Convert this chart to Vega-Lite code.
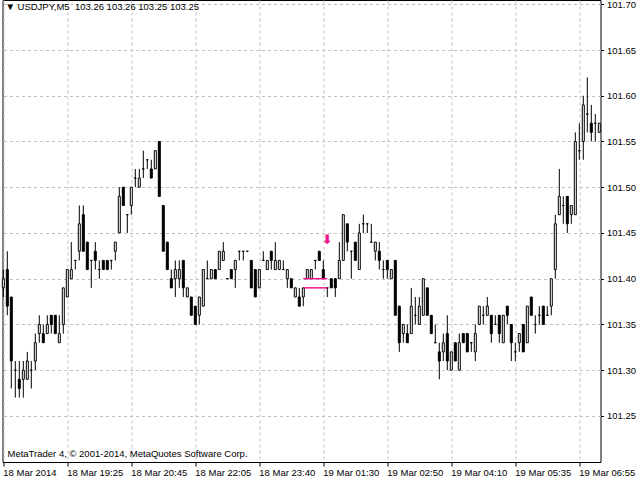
{
  "$schema": "https://vega.github.io/schema/vega-lite/v6.json",
  "width": 598,
  "height": 462,
  "autosize": "none",
  "padding": {"left": 2.5, "top": 0, "right": 39.5, "bottom": 18},
  "background": "#ffffff",
  "datasets": {
    "bars": [
      {"i":0,"o":101.39,"h":101.41,"l":101.38,"c":101.40},
      {"i":1,"o":101.41,"h":101.43,"l":101.36,"c":101.37},
      {"i":2,"o":101.38,"h":101.38,"l":101.28,"c":101.31},
      {"i":3,"o":101.30,"h":101.31,"l":101.27,"c":101.30},
      {"i":4,"o":101.29,"h":101.31,"l":101.27,"c":101.28},
      {"i":5,"o":101.29,"h":101.31,"l":101.27,"c":101.30},
      {"i":6,"o":101.29,"h":101.32,"l":101.29,"c":101.31},
      {"i":7,"o":101.30,"h":101.31,"l":101.28,"c":101.30},
      {"i":8,"o":101.31,"h":101.34,"l":101.30,"c":101.33},
      {"i":9,"o":101.34,"h":101.36,"l":101.33,"c":101.35},
      {"i":10,"o":101.34,"h":101.35,"l":101.33,"c":101.33},
      {"i":11,"o":101.34,"h":101.36,"l":101.34,"c":101.35},
      {"i":12,"o":101.36,"h":101.36,"l":101.34,"c":101.35},
      {"i":13,"o":101.36,"h":101.36,"l":101.34,"c":101.34},
      {"i":14,"o":101.33,"h":101.36,"l":101.33,"c":101.34},
      {"i":15,"o":101.35,"h":101.39,"l":101.34,"c":101.39},
      {"i":16,"o":101.38,"h":101.41,"l":101.38,"c":101.41},
      {"i":17,"o":101.40,"h":101.44,"l":101.40,"c":101.41},
      {"i":18,"o":101.42,"h":101.42,"l":101.41,"c":101.42},
      {"i":19,"o":101.43,"h":101.48,"l":101.42,"c":101.46},
      {"i":20,"o":101.47,"h":101.48,"l":101.43,"c":101.43},
      {"i":21,"o":101.44,"h":101.44,"l":101.41,"c":101.41},
      {"i":22,"o":101.42,"h":101.42,"l":101.39,"c":101.42},
      {"i":23,"o":101.43,"h":101.44,"l":101.41,"c":101.42},
      {"i":24,"o":101.41,"h":101.42,"l":101.40,"c":101.41},
      {"i":25,"o":101.42,"h":101.42,"l":101.41,"c":101.41},
      {"i":26,"o":101.42,"h":101.42,"l":101.41,"c":101.41},
      {"i":27,"o":101.42,"h":101.42,"l":101.41,"c":101.42},
      {"i":28,"o":101.43,"h":101.44,"l":101.42,"c":101.44},
      {"i":29,"o":101.45,"h":101.50,"l":101.45,"c":101.49},
      {"i":30,"o":101.50,"h":101.50,"l":101.48,"c":101.48},
      {"i":31,"o":101.47,"h":101.47,"l":101.45,"c":101.47},
      {"i":32,"o":101.48,"h":101.50,"l":101.47,"c":101.50},
      {"i":33,"o":101.51,"h":101.52,"l":101.50,"c":101.51},
      {"i":34,"o":101.50,"h":101.52,"l":101.50,"c":101.51},
      {"i":35,"o":101.52,"h":101.54,"l":101.51,"c":101.52},
      {"i":36,"o":101.53,"h":101.53,"l":101.52,"c":101.53},
      {"i":37,"o":101.52,"h":101.53,"l":101.51,"c":101.51},
      {"i":38,"o":101.52,"h":101.54,"l":101.52,"c":101.54},
      {"i":39,"o":101.55,"h":101.55,"l":101.49,"c":101.49},
      {"i":40,"o":101.48,"h":101.48,"l":101.43,"c":101.43},
      {"i":41,"o":101.44,"h":101.44,"l":101.41,"c":101.41},
      {"i":42,"o":101.40,"h":101.41,"l":101.39,"c":101.39},
      {"i":43,"o":101.40,"h":101.42,"l":101.38,"c":101.41},
      {"i":44,"o":101.40,"h":101.42,"l":101.39,"c":101.41},
      {"i":45,"o":101.42,"h":101.42,"l":101.38,"c":101.39},
      {"i":46,"o":101.38,"h":101.39,"l":101.38,"c":101.39},
      {"i":47,"o":101.38,"h":101.38,"l":101.36,"c":101.36},
      {"i":48,"o":101.37,"h":101.37,"l":101.35,"c":101.35},
      {"i":49,"o":101.36,"h":101.38,"l":101.35,"c":101.38},
      {"i":50,"o":101.37,"h":101.41,"l":101.37,"c":101.41},
      {"i":51,"o":101.40,"h":101.42,"l":101.40,"c":101.40},
      {"i":52,"o":101.40,"h":101.41,"l":101.40,"c":101.41},
      {"i":53,"o":101.41,"h":101.41,"l":101.40,"c":101.40},
      {"i":54,"o":101.41,"h":101.43,"l":101.41,"c":101.43},
      {"i":55,"o":101.42,"h":101.44,"l":101.42,"c":101.43},
      {"i":56,"o":101.40,"h":101.40,"l":101.40,"c":101.40},
      {"i":57,"o":101.41,"h":101.41,"l":101.40,"c":101.40},
      {"i":58,"o":101.41,"h":101.42,"l":101.39,"c":101.42},
      {"i":59,"o":101.43,"h":101.43,"l":101.42,"c":101.43},
      {"i":60,"o":101.43,"h":101.43,"l":101.42,"c":101.43},
      {"i":61,"o":101.43,"h":101.43,"l":101.43,"c":101.43},
      {"i":62,"o":101.42,"h":101.42,"l":101.39,"c":101.39},
      {"i":63,"o":101.41,"h":101.41,"l":101.38,"c":101.38},
      {"i":64,"o":101.39,"h":101.41,"l":101.39,"c":101.41},
      {"i":65,"o":101.42,"h":101.43,"l":101.42,"c":101.42},
      {"i":66,"o":101.41,"h":101.42,"l":101.41,"c":101.42},
      {"i":67,"o":101.43,"h":101.43,"l":101.41,"c":101.42},
      {"i":68,"o":101.41,"h":101.44,"l":101.41,"c":101.42},
      {"i":69,"o":101.41,"h":101.42,"l":101.41,"c":101.42},
      {"i":70,"o":101.41,"h":101.42,"l":101.41,"c":101.41},
      {"i":71,"o":101.40,"h":101.41,"l":101.39,"c":101.41},
      {"i":72,"o":101.40,"h":101.40,"l":101.39,"c":101.39},
      {"i":73,"o":101.38,"h":101.39,"l":101.38,"c":101.39},
      {"i":74,"o":101.38,"h":101.39,"l":101.37,"c":101.37},
      {"i":75,"o":101.38,"h":101.39,"l":101.37,"c":101.39},
      {"i":76,"o":101.40,"h":101.41,"l":101.40,"c":101.41},
      {"i":77,"o":101.40,"h":101.41,"l":101.40,"c":101.41},
      {"i":78,"o":101.42,"h":101.42,"l":101.41,"c":101.42},
      {"i":79,"o":101.43,"h":101.43,"l":101.42,"c":101.42},
      {"i":80,"o":101.41,"h":101.42,"l":101.40,"c":101.40},
      {"i":81,"o":101.39,"h":101.39,"l":101.38,"c":101.39},
      {"i":82,"o":101.40,"h":101.40,"l":101.39,"c":101.39},
      {"i":83,"o":101.40,"h":101.40,"l":101.38,"c":101.39},
      {"i":84,"o":101.40,"h":101.44,"l":101.40,"c":101.42},
      {"i":85,"o":101.42,"h":101.47,"l":101.42,"c":101.47},
      {"i":86,"o":101.46,"h":101.46,"l":101.43,"c":101.44},
      {"i":87,"o":101.43,"h":101.43,"l":101.40,"c":101.43},
      {"i":88,"o":101.44,"h":101.44,"l":101.42,"c":101.42},
      {"i":89,"o":101.41,"h":101.46,"l":101.41,"c":101.45},
      {"i":90,"o":101.46,"h":101.47,"l":101.45,"c":101.46},
      {"i":91,"o":101.46,"h":101.46,"l":101.45,"c":101.46},
      {"i":92,"o":101.44,"h":101.46,"l":101.44,"c":101.44},
      {"i":93,"o":101.43,"h":101.44,"l":101.42,"c":101.44},
      {"i":94,"o":101.43,"h":101.44,"l":101.41,"c":101.42},
      {"i":95,"o":101.41,"h":101.42,"l":101.40,"c":101.41},
      {"i":96,"o":101.42,"h":101.42,"l":101.40,"c":101.41},
      {"i":97,"o":101.40,"h":101.41,"l":101.40,"c":101.41},
      {"i":98,"o":101.42,"h":101.42,"l":101.36,"c":101.36},
      {"i":99,"o":101.37,"h":101.37,"l":101.32,"c":101.33},
      {"i":100,"o":101.34,"h":101.35,"l":101.33,"c":101.35},
      {"i":101,"o":101.34,"h":101.35,"l":101.33,"c":101.33},
      {"i":102,"o":101.34,"h":101.39,"l":101.34,"c":101.37},
      {"i":103,"o":101.36,"h":101.38,"l":101.35,"c":101.36},
      {"i":104,"o":101.35,"h":101.38,"l":101.35,"c":101.37},
      {"i":105,"o":101.36,"h":101.40,"l":101.36,"c":101.40},
      {"i":106,"o":101.39,"h":101.39,"l":101.36,"c":101.36},
      {"i":107,"o":101.36,"h":101.36,"l":101.34,"c":101.34},
      {"i":108,"o":101.33,"h":101.35,"l":101.33,"c":101.33},
      {"i":109,"o":101.32,"h":101.33,"l":101.29,"c":101.31},
      {"i":110,"o":101.32,"h":101.34,"l":101.31,"c":101.33},
      {"i":111,"o":101.34,"h":101.36,"l":101.30,"c":101.31},
      {"i":112,"o":101.30,"h":101.32,"l":101.30,"c":101.32},
      {"i":113,"o":101.33,"h":101.33,"l":101.31,"c":101.31},
      {"i":114,"o":101.30,"h":101.34,"l":101.30,"c":101.33},
      {"i":115,"o":101.34,"h":101.34,"l":101.33,"c":101.33},
      {"i":116,"o":101.34,"h":101.34,"l":101.32,"c":101.32},
      {"i":117,"o":101.33,"h":101.33,"l":101.32,"c":101.33},
      {"i":118,"o":101.32,"h":101.35,"l":101.31,"c":101.34},
      {"i":119,"o":101.35,"h":101.37,"l":101.35,"c":101.37},
      {"i":120,"o":101.36,"h":101.37,"l":101.35,"c":101.36},
      {"i":121,"o":101.36,"h":101.38,"l":101.36,"c":101.37},
      {"i":122,"o":101.36,"h":101.36,"l":101.33,"c":101.34},
      {"i":123,"o":101.35,"h":101.36,"l":101.35,"c":101.35},
      {"i":124,"o":101.36,"h":101.36,"l":101.33,"c":101.34},
      {"i":125,"o":101.33,"h":101.36,"l":101.33,"c":101.36},
      {"i":126,"o":101.37,"h":101.37,"l":101.35,"c":101.36},
      {"i":127,"o":101.35,"h":101.35,"l":101.31,"c":101.33},
      {"i":128,"o":101.32,"h":101.33,"l":101.31,"c":101.32},
      {"i":129,"o":101.33,"h":101.34,"l":101.32,"c":101.34},
      {"i":130,"o":101.35,"h":101.35,"l":101.32,"c":101.32},
      {"i":131,"o":101.33,"h":101.37,"l":101.33,"c":101.37},
      {"i":132,"o":101.38,"h":101.38,"l":101.36,"c":101.36},
      {"i":133,"o":101.35,"h":101.36,"l":101.34,"c":101.35},
      {"i":134,"o":101.36,"h":101.37,"l":101.35,"c":101.36},
      {"i":135,"o":101.37,"h":101.37,"l":101.35,"c":101.35},
      {"i":136,"o":101.36,"h":101.37,"l":101.36,"c":101.36},
      {"i":137,"o":101.37,"h":101.40,"l":101.36,"c":101.40},
      {"i":138,"o":101.41,"h":101.47,"l":101.40,"c":101.46},
      {"i":139,"o":101.47,"h":101.52,"l":101.47,"c":101.49},
      {"i":140,"o":101.48,"h":101.49,"l":101.46,"c":101.48},
      {"i":141,"o":101.49,"h":101.49,"l":101.45,"c":101.46},
      {"i":142,"o":101.47,"h":101.48,"l":101.46,"c":101.48},
      {"i":143,"o":101.47,"h":101.56,"l":101.47,"c":101.55},
      {"i":144,"o":101.54,"h":101.57,"l":101.53,"c":101.54},
      {"i":145,"o":101.55,"h":101.60,"l":101.53,"c":101.59},
      {"i":146,"o":101.58,"h":101.62,"l":101.56,"c":101.58},
      {"i":147,"o":101.57,"h":101.59,"l":101.55,"c":101.56},
      {"i":148,"o":101.57,"h":101.58,"l":101.55,"c":101.57},
      {"i":149,"o":101.56,"h":101.57,"l":101.56,"c":101.57}
    ],
    "levels": [
      {"i": 75, "i2": 81, "p": 101.40},
      {"i": 75, "i2": 81, "p": 101.39}
    ],
    "signals": [
      {"i": 81, "p": 101.442, "label": "⬇"}
    ]
  },
  "layer": [
    {
      "data": {"name": "bars"},
      "mark": {"type": "rule", "color": "#000000", "strokeWidth": 1},
      "encoding": {
        "x": {
          "field": "i",
          "type": "quantitative",
          "scale": {"domain": [-0.2, 149.3], "nice": false, "zero": false, "padding": 0},
          "axis": {
            "orient": "bottom",
            "title": null,
            "values": [0, 8, 16, 24, 32, 40, 48, 56, 64, 72, 80, 88, 96, 104, 112, 120, 128, 136, 144],
            "labelExpr": "['18 Mar 2014','','18 Mar 19:25','','18 Mar 20:45','','18 Mar 22:05','','18 Mar 23:40','','19 Mar 01:30','','19 Mar 02:50','','19 Mar 04:10','','19 Mar 05:35','','19 Mar 06:55'][datum.value / 8]",
            "labelAlign": "left",
            "labelBaseline": "top",
            "labelOffset": -0.5,
            "labelPadding": 1,
            "labelFlush": false,
            "labelOverlap": false,
            "labelBound": false,
            "tickSize": 4,
            "tickColor": "#000000",
            "tickOpacity": {"condition": {"test": "datum.value % 16 === 0", "value": 1}, "value": 0},
            "domain": false,
            "grid": true,
            "gridColor": "#c0c0c0",
            "gridDash": [3, 3],
            "gridWidth": 1
          }
        },
        "y": {
          "field": "l",
          "type": "quantitative",
          "scale": {"domain": [101.1996, 101.7047], "nice": false, "zero": false, "padding": 0},
          "axis": {
            "orient": "right",
            "title": null,
            "values": [101.25, 101.3, 101.35, 101.4, 101.45, 101.5, 101.55, 101.6, 101.65, 101.7],
            "format": ".2f",
            "tickSize": 3,
            "tickColor": "#000000",
            "labelPadding": 3,
            "labelBaseline": "middle",
            "domain": false,
            "grid": true,
            "gridColor": "#c0c0c0",
            "gridDash": [3, 3],
            "gridWidth": 1
          }
        },
        "y2": {"field": "h"}
      }
    },
    {
      "data": {"name": "bars"},
      "mark": {"type": "bar", "width": 2, "stroke": "#000000", "strokeWidth": 1},
      "encoding": {
        "x": {"field": "i", "type": "quantitative"},
        "y": {"field": "o", "type": "quantitative"},
        "y2": {"field": "c"},
        "fill": {"condition": {"test": "datum.c > datum.o", "value": "#ffffff"}, "value": "#000000"}
      }
    },
    {
      "data": {"name": "levels"},
      "mark": {"type": "rule", "color": "#f0148c", "strokeWidth": 1.5},
      "encoding": {
        "x": {"field": "i", "type": "quantitative"},
        "x2": {"field": "i2"},
        "y": {"field": "p", "type": "quantitative"}
      }
    },
    {
      "data": {"name": "signals"},
      "mark": {"type": "text", "color": "#f0148c", "font": "DejaVu Sans", "fontSize": 13, "fontWeight": "bold", "baseline": "middle", "align": "center"},
      "encoding": {
        "x": {"field": "i", "type": "quantitative"},
        "y": {"field": "p", "type": "quantitative"},
        "text": {"field": "label"}
      }
    },
    {
      "data": {"values": [{"label": "▼ USDJPY,M5\u00a0 103.26 103.26 103.25 103.25"}]},
      "mark": {"type": "text", "align": "left", "baseline": "top", "dx": 3, "dy": 2, "color": "#000000"},
      "encoding": {
        "x": {"datum": -0.2},
        "y": {"datum": 101.7047},
        "text": {"field": "label"}
      }
    },
    {
      "data": {"values": [{"label": "MetaTrader 4, © 2001-2014, MetaQuotes Software Corp."}]},
      "mark": {"type": "text", "align": "left", "baseline": "alphabetic", "dx": 5, "dy": -5, "color": "#000000"},
      "encoding": {
        "x": {"datum": -0.2},
        "y": {"datum": 101.1996},
        "text": {"field": "label"}
      }
    }
  ],
  "config": {
    "view": {"stroke": "#000000", "strokeWidth": 1},
    "font": "Liberation Sans",
    "text": {"font": "Liberation Sans", "fontSize": 9.5},
    "axis": {
      "labelFont": "Liberation Sans",
      "labelFontSize": 9.5,
      "labelColor": "#000000"
    }
  }
}
